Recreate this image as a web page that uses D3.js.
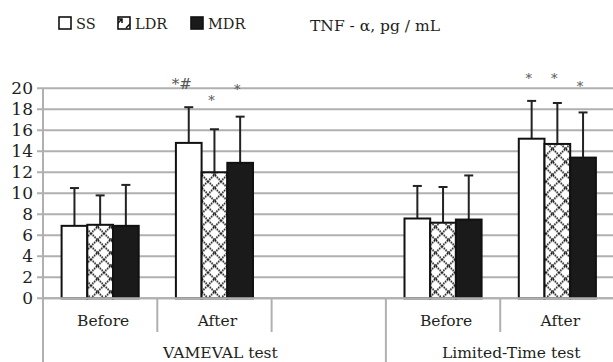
<!DOCTYPE html>
<html><head><meta charset="utf-8">
<script src="https://cdn.jsdelivr.net/npm/d3@7"></script>
<style>
html,body{margin:0;padding:0;background:#fff;}
svg text{font-family:"DejaVu Serif",serif;fill:#231f20;}
svg text.mk{fill:#555;}
</style></head>
<body><svg id="c" width="613" height="362"></svg>
<script>
// ---- data ----
const slots = ["V-Before","V-After","gap","L-Before","L-After"];
const slotLabels = ["Before","After","","Before","After"];
const groups = ["VAMEVAL test","Limited-Time test"];
const series = ["SS","LDR","MDR"];
const means = {
  SS:  [6.9, 14.8, null, 7.6, 15.2],
  LDR: [7.0, 12.0, null, 7.2, 14.7],
  MDR: [6.9, 12.9, null, 7.5, 13.4]
};
const sdTop = {
  SS:  [10.5, 18.2, null, 10.7, 18.8],
  LDR: [9.8, 16.1, null, 10.6, 18.6],
  MDR: [10.8, 17.3, null, 11.7, 17.7]
};
const marks = {
  SS:  ["", "*#", "", "", "*"],
  LDR: ["", "*", "", "", "*"],
  MDR: ["", "*", "", "", "*"]
};
const markLevel = {
  SS:  [null, 20.5, null, null, 21.1],
  LDR: [null, 19.0, null, null, 21.1],
  MDR: [null, 20.0, null, null, 20.3]
};
const yTicks = [0,2,4,6,8,10,12,14,16,18,20];
const title = "TNF - α, pg / mL";

(function(){
const svg = d3.select("#c");
const pL = 43, pR = 614.5, pT = 88.3, pB = 298.3;
const x = d3.scaleBand().domain(slots).range([pL, pR]).padding(0);
const xi = d3.scaleBand().domain(series).range([18.6, x.bandwidth()-18.6]).padding(0);
const y = d3.scaleLinear().domain([0,20]).range([pB, pT]);

const defs = svg.append("defs");
const pat = defs.append("pattern").attr("id","hatch").attr("patternUnits","userSpaceOnUse")
  .attr("width",13).attr("height",13).attr("x",0).attr("y",pB);
pat.append("rect").attr("width",13).attr("height",13).attr("fill","#fff");
pat.append("path").attr("d","M0,0L13,13M13,0L0,13").attr("stroke","#111").attr("stroke-width",1.8).attr("stroke-dasharray","1.6,0.9");
const pat2 = defs.append("pattern").attr("id","hatchS").attr("patternUnits","userSpaceOnUse")
  .attr("width",13).attr("height",13).attr("x",59).attr("y",17);
pat2.append("rect").attr("width",13).attr("height",13).attr("fill","#fff");
pat2.append("path").attr("d","M2,11L11,2M7,2L11,2L11,6").attr("stroke","#111").attr("stroke-width",1.5).attr("fill","none");

const fills = {SS:"#fff", LDR:"url(#hatch)", MDR:"#1a1a1a"};
const gridColor = "#b0b0b0";

svg.append("g").selectAll("line").data(yTicks).join("line")
  .attr("x1", pL-6).attr("x2", 613).attr("y1", d=>y(d)).attr("y2", d=>y(d))
  .attr("stroke", gridColor).attr("stroke-width", 2);
svg.append("g").selectAll("text").data(yTicks).join("text")
  .attr("x", 33).attr("y", d=>y(d)).attr("dy","0.36em").attr("text-anchor","end")
  .attr("font-size",17).text(d=>d);
svg.append("line").attr("x1",pL).attr("x2",pL).attr("y1",pT).attr("y2",362)
  .attr("stroke",gridColor).attr("stroke-width",2);
const sepShort = [slots[1], slots[2], slots[4]];
svg.append("g").selectAll("line").data(sepShort).join("line")
  .attr("x1", d=>x(d)).attr("x2", d=>x(d)).attr("y1", pB).attr("y2", 332)
  .attr("stroke", gridColor).attr("stroke-width", 2);
svg.append("line").attr("x1",x(slots[3])).attr("x2",x(slots[3])).attr("y1",pB).attr("y2",362)
  .attr("stroke",gridColor).attr("stroke-width",2);

series.forEach(s=>{
  const g = svg.append("g");
  const data = slots.map((c,i)=>({c, v:means[s][i], e:sdTop[s][i], m:marks[s][i], ml:markLevel[s][i]})).filter(d=>d.v!=null);
  data.forEach(d=>{
    const cx = x(d.c)+xi(s)+xi.bandwidth()/2;
    g.append("line").attr("x1",cx).attr("x2",cx).attr("y1",y(d.v)).attr("y2",y(d.e))
      .attr("stroke","#222").attr("stroke-width",2);
    g.append("line").attr("x1",cx-4.5).attr("x2",cx+4.5).attr("y1",y(d.e)).attr("y2",y(d.e))
      .attr("stroke","#222").attr("stroke-width",2);
  });
  g.selectAll("rect").data(data).join("rect")
    .attr("x", d=>x(d.c)+xi(s)).attr("width", xi.bandwidth())
    .attr("y", d=>y(d.v)).attr("height", d=>y(0)-y(d.v))
    .attr("fill", fills[s]).attr("stroke","#111").attr("stroke-width",2);
  data.filter(d=>d.m).forEach(d=>{
    const cx = x(d.c)+xi(s)+xi.bandwidth()/2 - (d.m.length>1 ? 7 : 3);
    g.append("text").attr("class","mk").attr("x",cx).attr("y",y(d.ml)+6).attr("text-anchor","middle")
      .attr("font-size", d.m.length>1 ? 15 : 13).text(d.m);
  });
});
svg.append("line").attr("x1",pL).attr("x2",613).attr("y1",pB).attr("y2",pB)
  .attr("stroke",gridColor).attr("stroke-width",2);

svg.append("g").selectAll("text").data(slots.map((s,i)=>({s,l:slotLabels[i]})).filter(d=>d.l)).join("text")
  .attr("x", d=>x(d.s)+x.bandwidth()/2+3).attr("y",326).attr("text-anchor","middle")
  .attr("font-size",15.5).text(d=>d.l);
const gx = [ (x(slots[0])+x(slots[2])+x.bandwidth())/2 + 6, (x(slots[3])+x(slots[4])+x.bandwidth())/2 + 11 ];
svg.append("g").selectAll("text").data(groups).join("text")
  .attr("x",(d,i)=>gx[i]).attr("y",358).attr("text-anchor","middle")
  .attr("font-size",15.5).text(d=>d);

const lx = [59, 118, 191];
series.forEach((s,i)=>{
  svg.append("rect").attr("x",lx[i]).attr("y",17).attr("width",12).attr("height",12)
    .attr("fill", s==="LDR" ? "url(#hatchS)" : fills[s]).attr("stroke","#111").attr("stroke-width",1.6);
  svg.append("text").attr("x",lx[i]+17).attr("y",29).attr("font-size",14.5).text(s);
});
svg.append("text").attr("x",310).attr("y",31).attr("font-size",15.5).text(title);
})();
</script></body></html>
